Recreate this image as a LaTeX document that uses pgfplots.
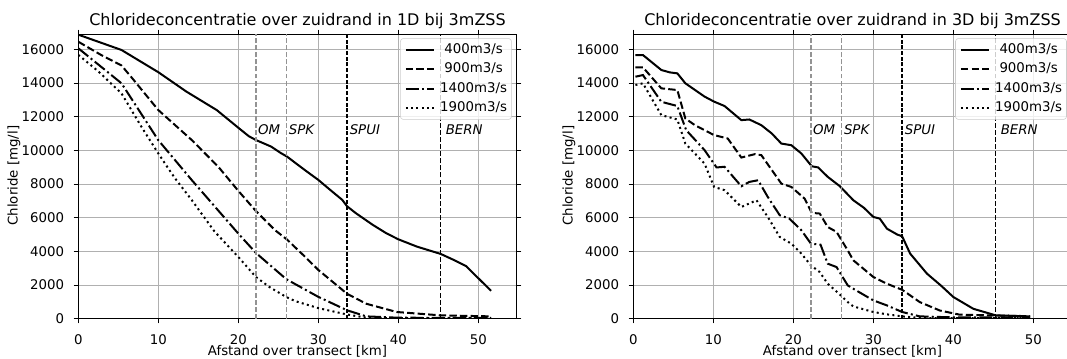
\documentclass[border=0pt]{standalone}
\usepackage{fontspec}
\setmainfont{DejaVu Sans}
\usepackage{pgfplots}
\usepackage{pgfplotstable}
\pgfplotsset{compat=1.18}

\pgfplotstableread{
x y
0 16.88
5.4 15.97
10 14.65
13.5 13.5
17.3 12.40
20 11.35
21.3 10.85
22.2 10.62
24.1 10.23
25.3 9.85
26.1 9.63
28.3 8.84
30 8.25
31.5 7.65
33 7.06
33.6 6.68
34.7 6.27
36.8 5.58
38.5 5.08
40 4.72
42.3 4.29
45.3 3.85
46.9 3.50
48.5 3.12
49.8 2.50
51.6 1.66
}\oneA
\pgfplotstableread{
x y
0 16.46
2.9 15.66
5.4 15.05
6.9 14.2
10 12.4
14.2 10.61
17.5 9.03
20 7.60
22.2 6.40
24.6 5.26
26.1 4.70
28.3 3.70
30 2.90
33.6 1.48
36 0.89
39.8 0.40
45.3 0.20
51.6 0.14
}\oneB
\pgfplotstableread{
x y
0 16.07
5.4 13.99
10 10.61
14.2 8.23
20 5.06
22.2 3.91
26.0 2.35
30 1.30
33.6 0.50
36 0.14
40 0.06
51.6 0.05
}\oneC
\pgfplotstableread{
x y
0 15.68
2.5 14.70
5.4 13.39
7.9 11.4
10 9.82
12 8.4
14.2 7.04
17 5.2
20 3.67
22.2 2.48
24 1.85
26.0 1.29
27.1 1.05
30 0.63
33.6 0.25
36 0.06
40 0.03
51.6 0.03
}\oneD

\pgfplotstableread{
x y
0.26 15.67
1.2 15.67
3.5 14.78
4.55 14.64
5.5 14.58
6.5 13.99
8.9 13.2
10.1 12.9
11.4 12.64
13.5 11.8
14.5 11.84
16.0 11.5
17.3 11.01
18.5 10.41
19.75 10.31
21 9.82
22.3 9.06
23.1 8.99
24.3 8.43
25.8 7.88
27.5 7.04
28.8 6.60
30 6.05
30.8 5.95
31.7 5.35
33.0 5.0
33.6 4.9
34.6 3.87
36.7 2.68
38.5 1.95
40 1.29
42.5 0.59
45.3 0.20
49.6 0.14
}\threeA
\pgfplotstableread{
x y
0.26 14.94
1.2 14.94
3.5 13.69
5.5 13.59
6.5 11.9
7.7 11.5
10.1 10.91
11.8 10.71
13.5 9.58
15.2 9.78
16.0 9.72
18.5 8.03
19.75 7.83
21.4 7.14
22.3 6.29
23.3 6.25
24.3 5.45
25.4 5.16
26.8 4.06
27.5 3.47
30 2.48
31.7 2.08
33.6 1.72
35.8 0.99
38.3 0.49
40.8 0.24
49.6 0.15
}\threeB
\pgfplotstableread{
x y
0.26 14.38
1.2 14.48
3.5 12.89
5.5 12.64
6.6 11.21
8.9 10.02
10.4 8.99
11.4 9.03
13.5 7.87
14.5 8.13
15.6 8.23
16.8 7.24
18.3 6.15
19.5 5.95
21 5.26
22.2 4.46
23.4 4.40
24.3 3.27
25.4 3.07
26.8 1.98
27.5 1.78
30 1.09
31.7 0.79
33.6 0.40
35.8 0.14
40 0.08
49.6 0.08
}\threeC
\pgfplotstableread{
x y
0.26 13.89
1.2 13.99
3.5 12.1
5.5 11.84
6.5 10.41
8.9 9.22
10.1 7.83
11.4 7.64
13.5 6.64
15.4 7.04
16.8 6.05
18.3 4.86
19.75 4.46
21 3.87
22.2 3.17
23.3 2.77
24.3 2.08
25.7 1.49
26.8 0.99
27.5 0.73
30 0.40
31.7 0.26
33.6 0.14
36 0.04
49.6 0.03
}\threeD

\definecolor{gridgray}{HTML}{B0B0B0}
\definecolor{leggray}{HTML}{CCCCCC}

\pgfplotsset{
  chl/.style={
    scale only axis,
    width=328.8pt, height=213.3pt,
    xmin=0, xmax=54.8, ymin=0, ymax=16900,
    xtick={0,10,20,30,40,50},
    ytick={0,2000,4000,6000,8000,10000,12000,14000,16000},
    scaled y ticks=false,
    grid=major,
    major grid style={color=gridgray, line width=0.8pt},
    axis line style={line width=0.8pt},
    tick align=outside,
    major tick length=3.5pt,
    every tick/.style={black, line width=0.8pt},
    tick label style={font=\fontsize{10}{12}\selectfont, inner sep=0pt},
    /pgf/number format/assume math mode=true,
    /pgf/number format/1000 sep={},
    xticklabel style={anchor=north, yshift=-8pt},
    yticklabel style={anchor=east, xshift=-7pt},
    xlabel={Afstand over transect [km]},
    ylabel={Chloride [mg/l]},
    label style={font=\fontsize{10}{12}\selectfont},
    xlabel style={at={(axis description cs:0.5,-0.116)}, anchor=center},
    ylabel style={at={(axis description cs:-0.147,0.503)}, anchor=center},
    every axis title/.style={at={(axis description cs:0.5,1)}, anchor=base, yshift=6.45pt, font=\fontsize{12}{14}\selectfont},
    legend style={at={(axis description cs:0.9886,0.986)}, anchor=north east,
      draw=leggray, rounded corners=2pt, fill=white, fill opacity=0.8, text opacity=1,
      font=\fontsize{10}{12}\selectfont, row sep=4.6pt, inner xsep=3.3pt, inner ysep=3.4pt,
      nodes={inner sep=0pt, text height=7.5pt, text depth=2.5pt},
      /tikz/every odd column/.append style={column sep=4pt}},
    legend cell align=left,
    legend image code/.code={\draw[#1] (0pt,0pt) -- (21pt,0pt);},
  },
  s1/.style={black, line width=1.5pt, solid},
  s2/.style={black, line width=1.5pt, dash pattern=on 5.55pt off 2.4pt},
  s3/.style={black, line width=1.5pt, dash pattern=on 9.6pt off 2.4pt on 1.5pt off 2.4pt},
  s4/.style={black, line width=1.5pt, dash pattern=on 1.5pt off 2.475pt},
  vgray/.style={gray!85, line width=1pt, dash pattern=on 3.7pt off 1.6pt},
  vspui/.style={black, line width=1.4pt, dash pattern=on 3pt off 1.3pt},
  vbern/.style={black, line width=0.8pt, dash pattern=on 3.7pt off 1.6pt},
}

\newcommand{\marklines}{%
  \addplot[vgray, forget plot] coordinates {(22.2,0) (22.2,16900)};
  \addplot[vgray, forget plot] coordinates {(26.0,0) (26.0,16900)};
  \addplot[vspui, forget plot] coordinates {(33.6,0) (33.6,16900)};
  \addplot[vbern, forget plot] coordinates {(45.3,0) (45.3,16900)};
  \node[anchor=west, inner sep=0pt, font=\fontsize{10}{12}\selectfont\itshape] at (axis cs:22.45,11250) {OM};
  \node[anchor=west, inner sep=0pt, font=\fontsize{10}{12}\selectfont\itshape] at (axis cs:26.3,11250) {SPK};
  \node[anchor=west, inner sep=0pt, font=\fontsize{10}{12}\selectfont\itshape] at (axis cs:33.9,11250) {SPUI};
  \node[anchor=west, inner sep=0pt, font=\fontsize{10}{12}\selectfont\itshape] at (axis cs:45.9,11250) {BERN};
}

\begin{document}
\begin{tikzpicture}
\begin{axis}[chl, at={(58.725pt,30.2pt)}, anchor=south west,
  title={Chlorideconcentratie over zuidrand in 1D bij 3mZSS}]
  \addplot[s1] table[x=x, y expr=\thisrow{y}*1000] {\oneA};
  \addplot[s2] table[x=x, y expr=\thisrow{y}*1000] {\oneB};
  \addplot[s3] table[x=x, y expr=\thisrow{y}*1000] {\oneC};
  \addplot[s4] table[x=x, y expr=\thisrow{y}*1000] {\oneD};
  \marklines
  \legend{\kern0.32em400m3/s,\kern0.32em900m3/s,1400m3/s,1900m3/s}
\end{axis}
\begin{axis}[chl, at={(475pt,30.2pt)}, anchor=south west,
  title={Chlorideconcentratie over zuidrand in 3D bij 3mZSS}]
  \addplot[s1] table[x=x, y expr=\thisrow{y}*1000] {\threeA};
  \addplot[s2] table[x=x, y expr=\thisrow{y}*1000] {\threeB};
  \addplot[s3] table[x=x, y expr=\thisrow{y}*1000] {\threeC};
  \addplot[s4] table[x=x, y expr=\thisrow{y}*1000] {\threeD};
  \marklines
  \legend{\kern0.32em400m3/s,\kern0.32em900m3/s,1400m3/s,1900m3/s}
\end{axis}
\pgfresetboundingbox
\path[use as bounding box] (0pt,0pt) rectangle (800.25pt,269.25pt);
\end{tikzpicture}
\end{document}
